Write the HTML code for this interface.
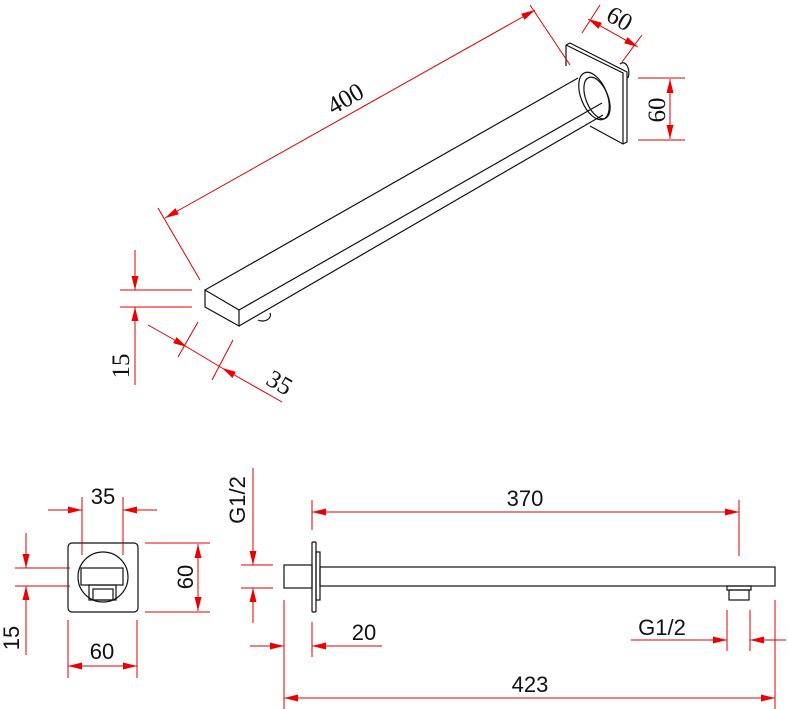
<!DOCTYPE html>
<html><head><meta charset="utf-8"><style>html,body{margin:0;padding:0;background:#fff}svg{display:block}</style></head><body>
<svg width="788" height="709" viewBox="0 0 788 709" xmlns="http://www.w3.org/2000/svg">
<defs>
<marker id="a" viewBox="0 0 14 7" refX="14" refY="3.5" markerWidth="14" markerHeight="7" markerUnits="userSpaceOnUse" orient="auto-start-reverse"><path d="M0,0 L14,3.5 L0,7 Z" fill="#e00"/></marker>
</defs>
<g fill="none" stroke="#111" stroke-width="1.2">
<path d="M205,290 L205,307 L239,326 L239,310 Z"/>
<path d="M205,290 L578,78"/>
<path d="M239,310 L602,103"/>
<path d="M239,326 L603,115"/>
<path d="M258,320 A8,6 0 0 0 270,313"/>
<path d="M566,45 L570,43 L627,72 L627,142 L623,144 L590,126"/>
<path d="M566,45 L566,66 M566,45 L623,73 L623,144"/>
<ellipse cx="594" cy="96" rx="13" ry="25" transform="rotate(-22 594 96)"/>
<ellipse cx="597" cy="98" rx="11" ry="22" transform="rotate(-22 597 98)"/>
<path d="M620,64 A6,10 0 0 1 628,78"/>
<rect x="68" y="543" width="70" height="69" rx="4"/>
<circle cx="103" cy="577" r="25"/>
<rect x="81" y="568" width="42" height="17"/>
<rect x="89" y="585" width="27" height="15"/>
<rect x="93" y="589" width="20" height="11"/>
<rect x="284" y="565" width="28" height="23"/>
<rect x="312" y="542" width="4" height="70" rx="1"/>
<rect x="316" y="552" width="4" height="48"/>
<rect x="320" y="567" width="455" height="19"/>
<rect x="727" y="586" width="24" height="4"/>
<rect x="729" y="590" width="20" height="10"/>
</g>
<g stroke="#d00" stroke-width="1" fill="none">
<path d="M158,208 L200,280 M530,5 L570,65"/>
<path d="M165,218 L535,10" marker-start="url(#a)" marker-end="url(#a)"/>
<path d="M582,33 L600,5 M622,62 L642,35"/>
<path d="M588,19 L638,47" marker-start="url(#a)" marker-end="url(#a)"/>
<path d="M638,78 L685,78 M638,140 L685,140"/>
<path d="M670,79 L670,139" marker-start="url(#a)" marker-end="url(#a)"/>
<path d="M120,290 L192,290 M120,307 L192,307"/>
<path d="M135,250 L135,290" marker-end="url(#a)"/>
<path d="M135,385 L135,307" marker-end="url(#a)"/>
<path d="M178,357 L198,322 M212,380 L233,340"/>
<path d="M148,325 L187,347" marker-end="url(#a)"/>
<path d="M282,402 L222,368" marker-end="url(#a)"/>
<path d="M187,347 L222,368"/>
<path d="M82,497 L82,555 M123,497 L123,555"/>
<path d="M48,510 L82,510" marker-end="url(#a)"/>
<path d="M157,510 L123,510" marker-end="url(#a)"/>
<path d="M145,543 L210,543 M145,612 L210,612"/>
<path d="M198,544 L198,611" marker-start="url(#a)" marker-end="url(#a)"/>
<path d="M15,568 L70,568 M15,586 L70,586"/>
<path d="M26,533 L26,568" marker-end="url(#a)"/>
<path d="M26,655 L26,586" marker-end="url(#a)"/>
<path d="M68,620 L68,678 M137,620 L137,678"/>
<path d="M68,666 L137,666" marker-start="url(#a)" marker-end="url(#a)"/>
<path d="M241,565 L273,565 M241,588 L273,588"/>
<path d="M253,468 L253,565" marker-end="url(#a)"/>
<path d="M253,623 L253,588" marker-end="url(#a)"/>
<path d="M312,500 L312,530 M739,500 L739,556"/>
<path d="M312,512 L739,512" marker-start="url(#a)" marker-end="url(#a)"/>
<path d="M284,600 L284,709 M312,622 L312,657"/>
<path d="M250,646 L284,646" marker-end="url(#a)"/>
<path d="M382,646 L312,646" marker-end="url(#a)"/>
<path d="M727,610 L727,651 M750,610 L750,651 M775,600 L775,709"/>
<path d="M631,640 L727,640" marker-end="url(#a)"/>
<path d="M786,640 L750,640" marker-end="url(#a)"/>
<path d="M284,698 L775,698" marker-start="url(#a)" marker-end="url(#a)"/>
</g>
<g fill="#111" font-family="Liberation Serif, serif" font-size="25" text-anchor="middle">
<text x="345" y="107" transform="rotate(-30 345 98)">400</text>
<text x="620" y="27" transform="rotate(30 620 18)">60</text>
<text x="657" y="110" transform="rotate(-90 657 110)" dy="8">60</text>
<text x="121" y="366" transform="rotate(-90 121 366)" dy="8">15</text>
<text x="280" y="391" transform="rotate(30 280 382)">35</text>
</g>
<g fill="#111" font-family="Liberation Sans, sans-serif" font-size="22" text-anchor="middle">
<text x="103" y="504">35</text>
<text x="185" y="577" transform="rotate(-90 185 577)" dy="8">60</text>
<text x="11" y="638" transform="rotate(-90 11 638)" dy="8">15</text>
<text x="102" y="659">60</text>
<text x="237" y="500" transform="rotate(-90 237 500)" dy="8">G1/2</text>
<text x="525" y="506">370</text>
<text x="364" y="640">20</text>
<text x="662" y="635">G1/2</text>
<text x="530" y="692">423</text>
</g>
</svg>
</body></html>
